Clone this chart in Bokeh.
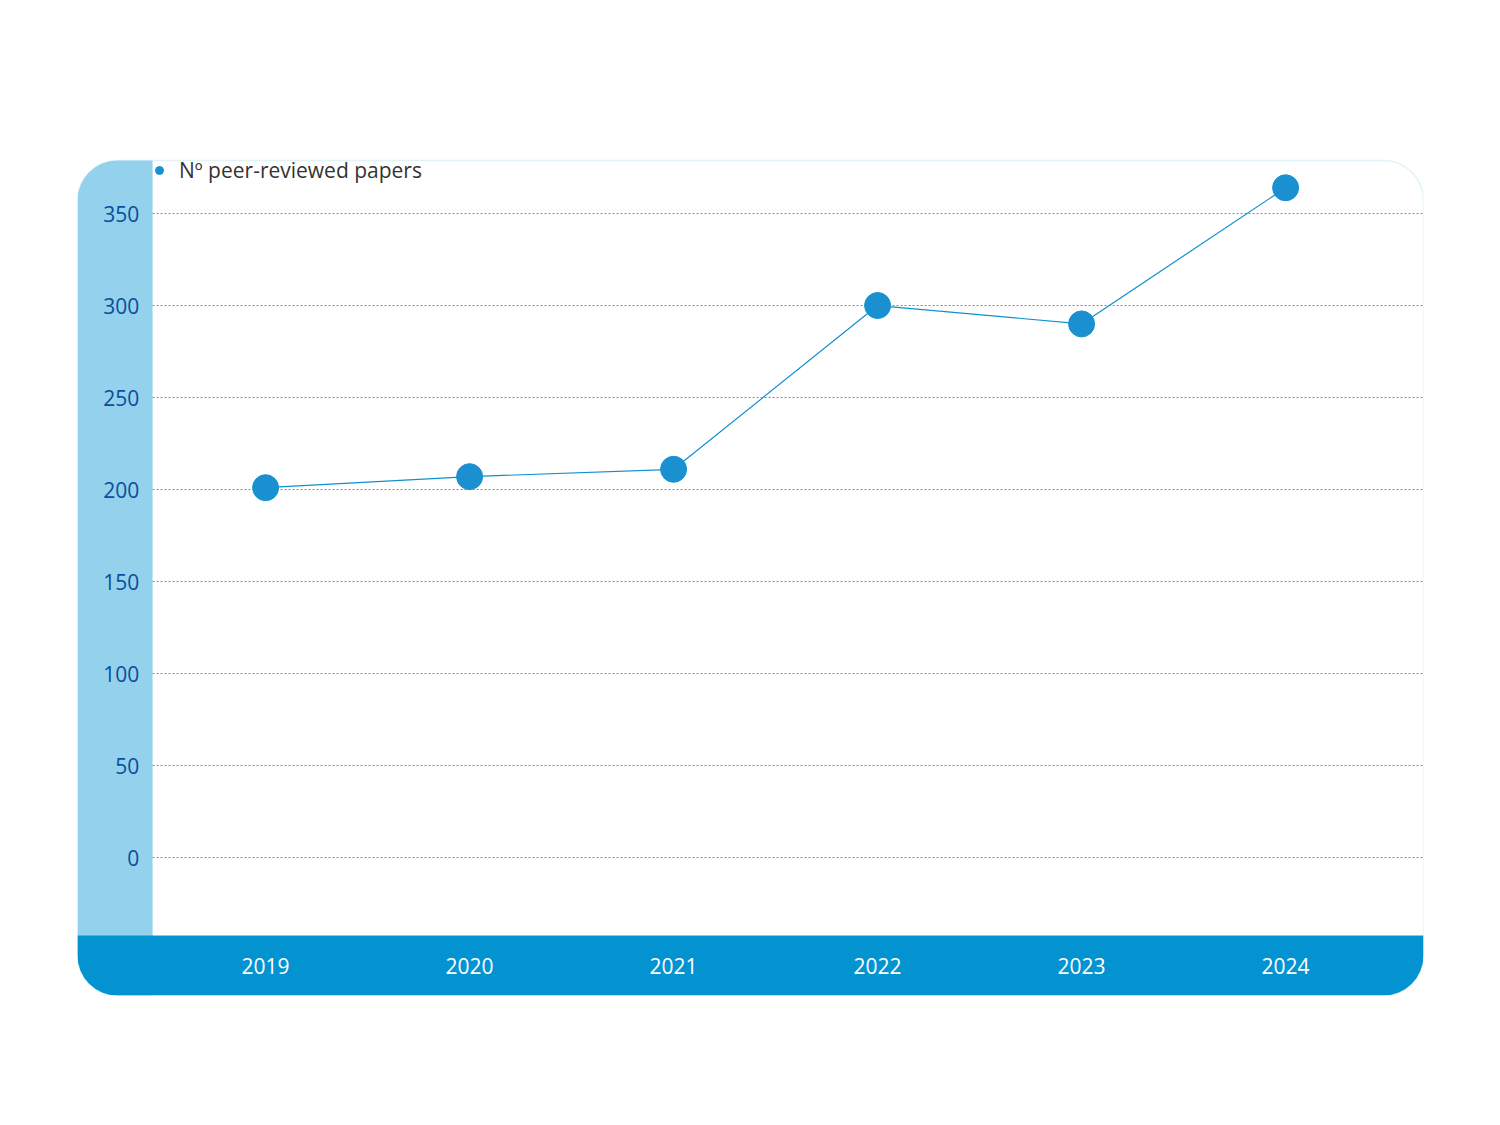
from bokeh.plotting import figure
from bokeh.models import BoxAnnotation, Range1d, Legend, LegendItem
from bokeh.core.properties import value
from bokeh.embed import file_html
from bokeh.resources import INLINE

years = [2019, 2020, 2021, 2022, 2023, 2024]
papers = [201, 207, 211, 300, 290, 364]
y_ticks = [0, 50, 100, 150, 200, 250, 300, 350]
series_name = "Nº peer-reviewed papers"

FONT = "Open Sans"
X0, X1 = 2018.078, 2024.676
Y0, Y1 = -75.0, 406.0
BOX_TOP = 378.8
BAND_X = 2018.446
BAND_Y = -42.4

p = figure(width=1484, height=1100, output_backend="svg", toolbar_location=None,
           x_range=Range1d(X0, X1), y_range=Range1d(Y0, Y1),
           min_border_left=77, min_border_right=1484 - 1423, min_border_top=110,
           min_border_bottom=1100 - 995)
p.axis.visible = False
p.grid.visible = False
p.outline_line_color = None
p.background_fill_alpha = 0

# container
p.add_layout(BoxAnnotation(top=BOX_TOP, fill_color="white", line_color="#9bd3ec", line_width=1.5,
                           border_radius=40, level="underlay"))
p.add_layout(BoxAnnotation(top=BOX_TOP, right=BAND_X, fill_color="#93d1ec", fill_alpha=1, line_alpha=0,
                           border_radius=(40, 0, 0, 40), level="underlay"))
p.add_layout(BoxAnnotation(top=BAND_Y, fill_color="#0293d0", fill_alpha=1, line_alpha=0,
                           border_radius=(0, 0, 40, 40), level="underlay"))

# grid lines
p.segment(x0=[BAND_X] * len(y_ticks), x1=[X1] * len(y_ticks), y0=y_ticks, y1=y_ticks,
          line_color="#888888", line_width=1, line_dash="2 2")

# y tick labels
p.text(x=[BAND_X - 0.065] * len(y_ticks), y=y_ticks, text=[str(t) for t in y_ticks],
       text_font=value(FONT), text_font_size="21px", text_color="#0a4f9c",
       text_align="right", text_baseline="middle")

# x tick labels
p.text(x=years, y=[(Y0 + BAND_Y) / 2] * len(years), text=[str(y) for y in years],
       text_font=value(FONT), text_font_size="21px", text_color="white",
       text_align="center", text_baseline="middle")

p.line(years, papers, line_color="#0e90cf", line_width=1.2)
pts = p.scatter(years, papers, size=26, fill_color="#1a90d0", line_color="#1a90d0")

legend = Legend(items=[LegendItem(label=series_name, renderers=[pts])],
                location=(72, 885 - 140 + 6 - 20 + 80), background_fill_alpha=0, border_line_alpha=0,
                label_text_font=FONT, label_text_font_size="21px",
                label_text_color="#333333", glyph_width=20, glyph_height=20,
                padding=0, margin=0, label_standoff=10)
p.add_layout(legend)

open("out.html", "w").write(file_html(p, INLINE))
